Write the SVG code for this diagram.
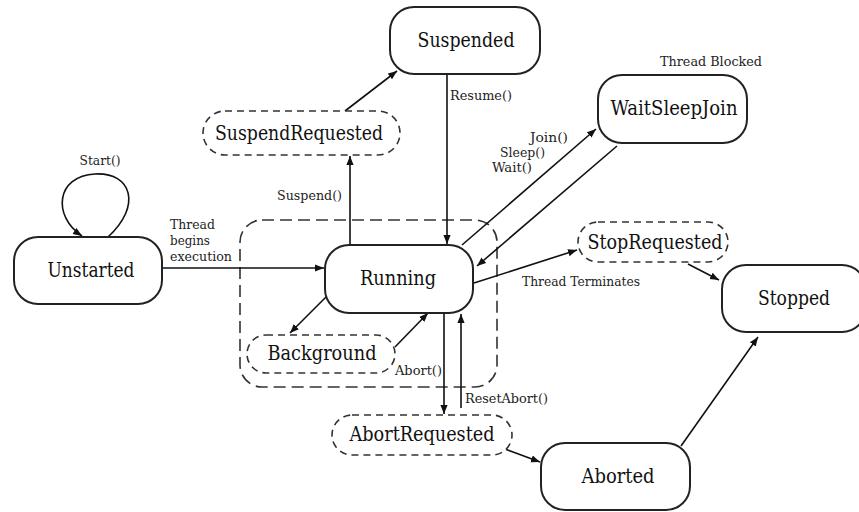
<svg xmlns="http://www.w3.org/2000/svg" width="859" height="512" viewBox="0 0 859 512">
  <defs>
    <marker id="arrow" viewBox="0 0 10 10" refX="10" refY="5" markerWidth="9" markerHeight="9" markerUnits="userSpaceOnUse" orient="auto">
      <path d="M0,1 L10,5 L0,9 Z" fill="#111"/>
    </marker>
    <style>
      .state { fill: #fff; stroke: #222; stroke-width: 2; }
      .transient { fill: #fff; stroke: #333; stroke-width: 1.6; stroke-dasharray: 7 5; }
      .region { fill: none; stroke: #333; stroke-width: 1.6; stroke-dasharray: 12 6; }
      .name { font-size: 20.5px; fill: #111; text-anchor: middle; }
      .label { font-size: 13.5px; fill: #222; }
      .edge { fill: none; stroke: #111; stroke-width: 1.6; marker-end: url(#arrow); }
    </style>
  </defs>
  <rect width="859" height="512" fill="#fff"/>

  <!-- managed-thread region -->
  <rect class="region" x="240" y="220" width="257" height="167" rx="22"/>

  <g id="connectors">
    <path class="edge" d="M108,237 C142,206 132,172 95,174 C56,176 52,216 82,236"/>
    <line class="edge" x1="162" y1="268" x2="324" y2="268"/>
    <line class="edge" x1="350" y1="245" x2="350" y2="156"/>
    <line class="edge" x1="345" y1="111" x2="397" y2="71"/>
    <line class="edge" x1="447" y1="74" x2="447" y2="244"/>
    <line class="edge" x1="462" y1="245" x2="596" y2="129"/>
    <line class="edge" x1="617" y1="146" x2="477" y2="266"/>
    <line class="edge" x1="474" y1="283" x2="577" y2="250"/>
    <line class="edge" x1="688" y1="264" x2="719" y2="280"/>
    <line class="edge" x1="327" y1="296" x2="290" y2="333"/>
    <line class="edge" x1="395" y1="347" x2="428" y2="313"/>
    <line class="edge" x1="444" y1="313" x2="444" y2="414"/>
    <line class="edge" x1="461" y1="408" x2="461" y2="314"/>
    <line class="edge" x1="505" y1="449" x2="540" y2="462"/>
    <line class="edge" x1="681" y1="446" x2="758" y2="337"/>
  </g>

  <g font-family="DejaVu Serif Condensed, DejaVu Serif, serif" lengthAdjust="spacingAndGlyphs">
  <g id="labels">
    <text class="label" x="100" y="165" text-anchor="middle" textLength="41" lengthAdjust="spacingAndGlyphs">Start()</text>
    <text class="label" x="170" y="229" textLength="45" lengthAdjust="spacingAndGlyphs">Thread</text>
    <text class="label" x="170" y="245" textLength="40" lengthAdjust="spacingAndGlyphs">begins</text>
    <text class="label" x="170" y="261" textLength="62" lengthAdjust="spacingAndGlyphs">execution</text>
    <text class="label" x="277" y="200" textLength="65" lengthAdjust="spacingAndGlyphs">Suspend()</text>
    <text class="label" x="450" y="100" textLength="62" lengthAdjust="spacingAndGlyphs">Resume()</text>
    <text class="label" x="530" y="142" textLength="38" lengthAdjust="spacingAndGlyphs">Join()</text>
    <text class="label" x="500" y="157" textLength="45" lengthAdjust="spacingAndGlyphs">Sleep()</text>
    <text class="label" x="492" y="172" textLength="40" lengthAdjust="spacingAndGlyphs">Wait()</text>
    <text class="label" x="660" y="66" textLength="102" lengthAdjust="spacingAndGlyphs">Thread Blocked</text>
    <text class="label" x="522" y="286" textLength="118" lengthAdjust="spacingAndGlyphs">Thread Terminates</text>
    <text class="label" x="395" y="375" textLength="47" lengthAdjust="spacingAndGlyphs">Abort()</text>
    <text class="label" x="465" y="403" textLength="83" lengthAdjust="spacingAndGlyphs">ResetAbort()</text>
  </g>

  <g id="Unstarted">
    <rect class="state" x="14" y="237" width="148" height="67" rx="24"/>
    <text class="name" x="91" y="277" textLength="87" lengthAdjust="spacingAndGlyphs">Unstarted</text>
  </g>
  <g id="Running">
    <rect class="state" x="325" y="245" width="148" height="68" rx="24"/>
    <text class="name" x="398" y="285" textLength="76" lengthAdjust="spacingAndGlyphs">Running</text>
  </g>
  <g id="Suspended">
    <rect class="state" x="390" y="7" width="150" height="67" rx="24"/>
    <text class="name" x="466" y="47" textLength="97" lengthAdjust="spacingAndGlyphs">Suspended</text>
  </g>
  <g id="WaitSleepJoin">
    <rect class="state" x="598" y="75" width="149" height="68" rx="24"/>
    <text class="name" x="674" y="115" textLength="127" lengthAdjust="spacingAndGlyphs">WaitSleepJoin</text>
  </g>
  <g id="Stopped">
    <rect class="state" x="722" y="265" width="144" height="67" rx="24"/>
    <text class="name" x="794" y="305" textLength="72" lengthAdjust="spacingAndGlyphs">Stopped</text>
  </g>
  <g id="Aborted">
    <rect class="state" x="541" y="443" width="149" height="67" rx="24"/>
    <text class="name" x="618" y="483" textLength="73" lengthAdjust="spacingAndGlyphs">Aborted</text>
  </g>
  <g id="SuspendRequested">
    <rect class="transient" x="203" y="111" width="197" height="44" rx="22"/>
    <text class="name" x="299" y="140" textLength="168" lengthAdjust="spacingAndGlyphs">SuspendRequested</text>
  </g>
  <g id="StopRequested">
    <rect class="transient" x="578" y="222" width="150" height="40" rx="20"/>
    <text class="name" x="655" y="249" textLength="135" lengthAdjust="spacingAndGlyphs">StopRequested</text>
  </g>
  <g id="Background">
    <rect class="transient" x="247" y="335" width="148" height="38" rx="19"/>
    <text class="name" x="322" y="360" textLength="109" lengthAdjust="spacingAndGlyphs">Background</text>
  </g>
  <g id="AbortRequested">
    <rect class="transient" x="332" y="415" width="180" height="40" rx="20"/>
    <text class="name" x="422" y="441" textLength="145" lengthAdjust="spacingAndGlyphs">AbortRequested</text>
  </g>
  </g>
</svg>
